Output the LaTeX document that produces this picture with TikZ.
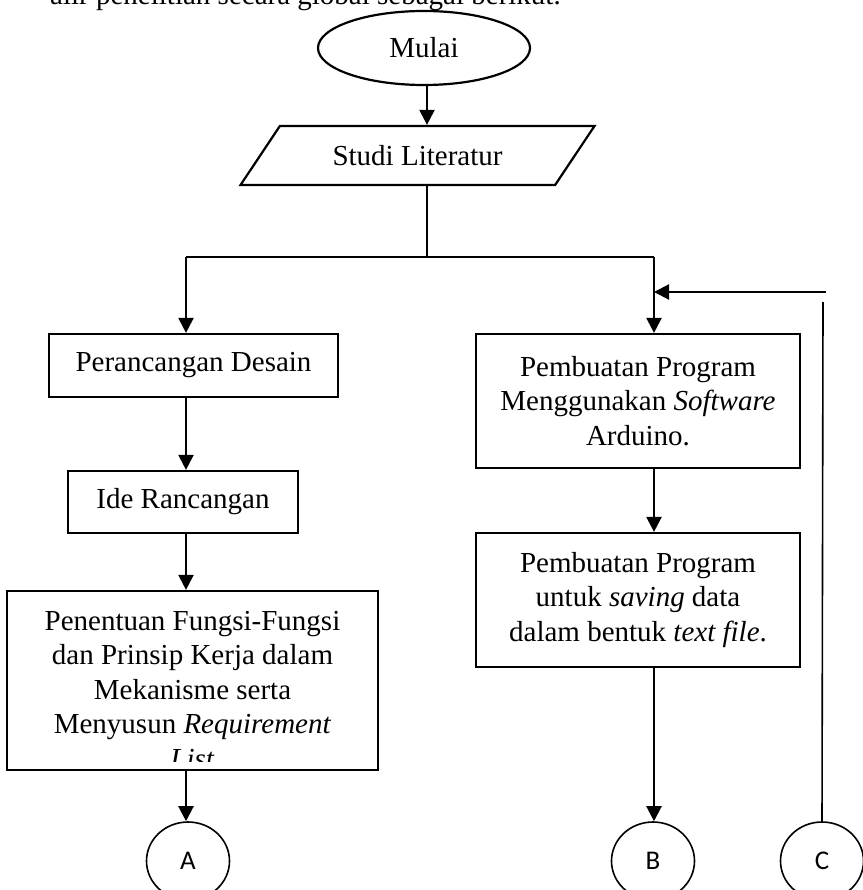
\documentclass[tikz,border=0pt]{standalone}
\usepackage{fontspec}
\setmainfont{Liberation Serif}
\newfontfamily\connfont{Carlito}
\usetikzlibrary{arrows.meta, shapes.geometric}

\begin{document}
\begin{tikzpicture}[x = 1pt, y = -1pt,
	txt/.style = {font = \fontsize{29}{34.5}\selectfont, align = center, inner sep = 0pt},
	box/.style = {txt, draw, line width = 2.2pt},
	arr/.style = {line width = 2.2pt, -{Triangle[length = 15pt, width = 15pt]}},
	link/.style = {line width = 2.2pt},
	conn/.style = {draw, ellipse, line width = 1.6pt, minimum width = 83pt, minimum height = 78pt, inner sep = 0pt, font = \connfont\fontsize{27}{30}\selectfont}]
	\useasboundingbox (0,0) rectangle (862,890);
	\begin{scope}
		\clip (0,0) rectangle (862,890);
		\node[txt, anchor = base west] (intro) at (50,5) {alir penelitian secara global sebagai berikut.};
	\end{scope}
	\node[box, ellipse, minimum width = 212pt, minimum height = 74pt] (mulai) at (424,48) {Mulai};
	\node[box, trapezium, trapezium left angle = 40, trapezium right angle = 140, trapezium stretches = true, minimum width = 355pt, minimum height = 59pt] (studi) at (417.5,155.5) {Studi Literatur};
	\coordinate (mid) at (427,257);
	\coordinate (jl) at (186,257);
	\coordinate (jr) at (654,257);
	\coordinate (fb) at (826,292);
	\coordinate (ctop) at (823,302);
	\coordinate (fclip) at (378,761);
	\node[box, minimum width = 289pt, minimum height = 63pt] (desain) at (193.5,365.5) {Perancangan Desain};
	\node[box, minimum width = 230pt, minimum height = 62pt] (ide) at (183,502) {Ide Rancangan};
	\node[box, minimum width = 371pt, minimum height = 179pt] (fungsi) at (192.5,680.5) {};
	\begin{scope}
		\clip (fungsi.north west) rectangle (fclip);
		\node[txt] (fungsitxt) at (192.5,690) {Penentuan Fungsi-Fungsi\\dan Prinsip Kerja dalam\\Mekanisme serta\\Menyusun \textit{Requirement}\\\textit{List}};
	\end{scope}
	\node[box, minimum width = 324pt, minimum height = 134pt] (arduino) at (638,401) {Pembuatan Program\\Menggunakan \textit{Software}\\Arduino.};
	\node[box, minimum width = 324pt, minimum height = 134pt] (saving) at (638,600) {Pembuatan Program\\untuk \textit{saving} data\\dalam bentuk \textit{text file}.};
	\node[conn] (A) at (188,861) {A};
	\node[conn] (B) at (653,861) {B};
	\node[conn] (C) at (822,861) {C};
	\draw[arr] (mulai.south -| mid) -- (studi.north -| mid);
	\draw[link] (studi.south -| mid) -- (mid);
	\draw[link] (jl) -- (jr);
	\draw[arr] (jl) -- (jl |- desain.north);
	\draw[arr] (jr) -- (jr |- arduino.north);
	\draw[arr] (desain.south -| jl) -- (ide.north -| jl);
	\draw[arr] (ide.south -| jl) -- (fungsi.north -| jl);
	\draw[arr] (fungsi.south -| jl) -- (A.north -| jl);
	\draw[arr] (arduino.south -| jr) -- (saving.north -| jr);
	\draw[arr] (saving.south -| jr) -- (B.north -| jr);
	\draw[link, line width = 1.6pt] (C.north) -- (ctop);
	\draw[arr] (fb) -- (fb -| jr);
\end{tikzpicture}
\end{document}
